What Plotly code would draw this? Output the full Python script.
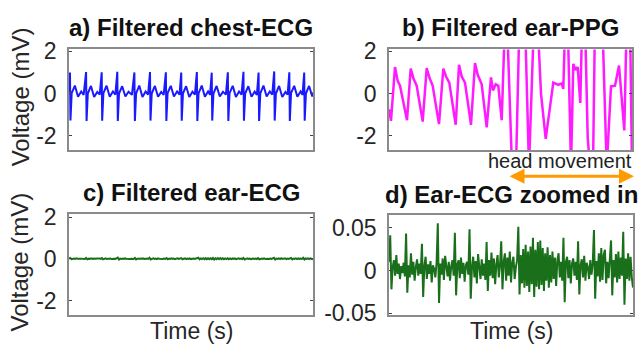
import numpy as np
import plotly.graph_objects as go

# ---------------- data ----------------
# a) chest ECG (mV) vs time (arbitrary units 0-100)
ecg_t = [0.0, 0.4, 0.6, 1.1, 2.4, 3.7, 5.0, 6.0,
         7.0, 7.2, 7.7, 9.0, 10.3, 11.6, 12.6,
         13.4, 13.6, 14.1, 15.4, 16.7, 18.0, 19.0,
         19.8, 20.0, 20.5, 21.8, 23.1, 24.4, 25.8,
         26.8, 27.0, 27.5, 28.8, 30.1, 31.4, 32.4,
         33.2, 33.4, 33.9, 35.2, 36.5, 37.8, 38.8,
         39.7, 39.9, 40.4, 41.7, 43.0, 44.3, 45.3,
         46.0, 46.2, 46.7, 48.0, 49.3, 50.6, 51.6,
         52.4, 52.6, 53.1, 54.4, 55.7, 57.0, 57.8,
         58.5, 58.7, 59.2, 60.5, 61.8, 63.1, 64.3,
         65.1, 65.3, 65.8, 67.1, 68.4, 69.7, 70.7,
         71.5, 71.7, 72.2, 73.5, 74.8, 76.1, 77.0,
         77.7, 77.9, 78.4, 79.7, 81.0, 82.3, 83.3,
         84.1, 84.3, 84.8, 86.1, 87.4, 88.7, 89.6,
         90.3, 90.5, 91.0, 92.3, 93.6, 94.9, 95.7,
         96.4, 96.6, 97.1, 98.4, 99.7, 100.0]
ecg_v = [0.10, 1.00, -1.28, 0.02, 0.38, -0.15, 0.10, -0.06,
         1.02, -1.30, 0.00, 0.36, -0.16, 0.08, -0.05,
         1.01, -1.29, 0.02, 0.37, -0.15, 0.10, -0.05,
         1.03, -1.30, 0.00, 0.35, -0.14, 0.09, -0.06,
         1.00, -1.30, 0.01, 0.38, -0.16, 0.10, -0.05,
         1.02, -1.28, 0.00, 0.36, -0.15, 0.08, -0.06,
         1.01, -1.30, 0.02, 0.37, -0.14, 0.10, -0.05,
         1.00, -1.29, 0.00, 0.35, -0.16, 0.09, -0.05,
         1.02, -1.30, 0.01, 0.38, -0.15, 0.10, -0.06,
         0.99, -1.28, 0.00, 0.36, -0.14, 0.08, -0.05,
         1.01, -1.30, 0.02, 0.37, -0.16, 0.10, -0.05,
         1.03, -1.29, 0.00, 0.35, -0.15, 0.09, -0.06,
         1.00, -1.30, 0.01, 0.38, -0.14, 0.10, -0.05,
         1.05, -1.28, 0.00, 0.36, -0.16, 0.08, -0.05,
         1.01, -1.30, 0.02, 0.37, -0.15, 0.10, -0.06,
         1.00, -1.29, 0.00, 0.36, -0.14, 0.05]

# b) ear PPG
ppg_t = [0, 0.82, 2.47, 3.58, 4.53, 5.88, 7.41, 8.93, 10.0, 11.4, 13.87, 15.51,
         16.58, 17.98, 20.58, 22.35, 23.46, 24.81, 27.45, 28.81, 29.92, 31.28,
         33.74, 35.39, 36.5, 38.15, 40.2, 41.98, 42.8, 43.91, 44.98, 46.38,
         47.74, 48.56, 50.62, 52.26, 53.7, 55.97, 57.61, 59.67, 61.11, 62.55,
         64.49, 67.61, 69.67, 71.07, 71.73, 72.43, 73.54, 74.9, 75.84, 76.83,
         77.65, 78.72, 79.51, 80.66, 81.77, 82.72, 83.95, 84.77, 87.78, 89.59,
         91.36, 93.0, 94.65, 96.83, 97.82, 99.18, 100.0]
ppg_v = [-0.74, -1.29, 1.26, 0.59, 0.37, -0.37, -1.26, 1.18, 0.74, 0.37, -1.33, 1.21,
         0.77, 0.37, -1.45, 1.18, 0.81, 0.52, -1.48, 1.36, 0.81, 0.52,
         -1.48, 1.45, 0.89, 0.44, -1.60, 0.77, 0.15, 0.44, 0.37, -1.26,
         3.5, 3.5, -3.5, -3.5, 3.5, 3.5, -3.5, 3.5, 3.5, 0.0,
         -2.15, 0.52, 0.41, 0.48, 0.22, 3.0, 3.5, -3.5, 1.41, 1.11,
         1.26, -0.44, 3.5, 3.5, -2.07, -3.5, -3.5, 3.5, 3.5, -3.5,
         0.34, 0.37, 1.33, -1.75, 3.5, 3.5, -3.5]

# c/d) ear ECG (mV), uniformly sampled over 0-100
ear_v = [
    0.010, 0.041, -0.022, 0.004, 0.012, -0.006, 0.018, -0.004, 0.008, -0.010, 0.005, -0.003, 0.009, -0.007,
    0.043, -0.026, 0.006, -0.008, 0.020, -0.005, 0.010, -0.012, 0.004, 0.013, -0.006, 0.008, -0.004,
    0.031, -0.031, 0.005, 0.016, -0.010, 0.007, -0.004, 0.011, -0.014, 0.006, 0.002, -0.008, 0.009,
    0.055, -0.038, 0.008, -0.005, 0.014, -0.011, 0.017, 0.003, -0.007, 0.010, -0.012, 0.005, 0.012, -0.006,
    0.044, -0.029, 0.007, 0.012, -0.009, 0.015, -0.004, 0.009, -0.013, 0.006, 0.010, -0.005,
    0.048, -0.033, 0.004, 0.016, -0.008, 0.011, -0.015, 0.019, 0.002, -0.010, 0.013, -0.006, 0.008, -0.011,
    0.033, -0.024, 0.012, -0.006, 0.021, -0.009, 0.014, -0.016, 0.007, 0.018, -0.008, 0.006,
    0.034, -0.022, 0.010, 0.020, -0.012, 0.015, -0.006, 0.022, -0.014, 0.009, 0.016, -0.010, 0.004, 0.012,
    0.051, -0.028, 0.018, -0.015, 0.025, -0.020, 0.030, -0.018, 0.022, -0.025, 0.028, -0.016,
    0.038, -0.031, 0.024, -0.019, 0.033, -0.022, 0.035, -0.017, 0.026, -0.024, 0.020, -0.012,
    0.027, -0.020, 0.018, -0.014, 0.022, -0.010, 0.015, -0.018, 0.012, 0.020, -0.008, 0.010, -0.012,
    0.038, -0.037, 0.010, 0.016, -0.009, 0.012, -0.015, 0.008, 0.014, -0.006, 0.010, -0.011,
    0.034, -0.028, 0.006, 0.013, -0.008, 0.017, -0.012, 0.009, 0.004, -0.010, 0.012, -0.005, 0.008,
    0.047, -0.033, 0.011, -0.007, 0.020, -0.013, 0.026, -0.011, 0.018, 0.024, -0.015, 0.010, -0.009, 0.014,
    0.035, -0.029, 0.012, -0.008, 0.019, -0.014, 0.022, -0.010, 0.015, -0.006,
    0.045, -0.040, 0.014, -0.010, 0.020, -0.012, 0.016, -0.008, -0.020,
]
ear_t = np.linspace(0, 100, len(ear_v))

titles = ["a) Filtered chest-ECG", "b) Filtered ear-PPG",
          "c) Filtered ear-ECG", "d) Ear-ECG zoomed in"]

# ---------------- figure ----------------
W, H = 639, 358
FONT = "Liberation Sans, Arial, sans-serif"
FRAME = "#8a8a8a"
TICKC = "#262626"

def px(x):
    return x / W

def py(y):
    return 1 - y / H

fig = go.Figure()
fig.add_trace(go.Scatter(x=ecg_t, y=ecg_v, mode="lines", line=dict(color="#1a1aff", width=2),
                         xaxis="x", yaxis="y", showlegend=False))
fig.add_trace(go.Scatter(x=ppg_t, y=ppg_v, mode="lines", line=dict(color="#ff1aff", width=2.5),
                         xaxis="x2", yaxis="y2", showlegend=False))
fig.add_trace(go.Scatter(x=ear_t, y=ear_v, mode="lines", line=dict(color="#1a6f1a", width=2),
                         xaxis="x3", yaxis="y3", showlegend=False))
fig.add_trace(go.Scatter(x=ear_t, y=ear_v, mode="lines", line=dict(color="#1a6f1a", width=2),
                         xaxis="x4", yaxis="y4", showlegend=False))

boxes = {
    1: (69, 313, 41, 148),
    2: (389, 632, 41, 148),
    3: (69, 313, 216, 324),
    4: (389, 633, 217, 324),
}
yranges = {1: [-2.67, 2.09], 2: [-2.67, 2.09], 3: [-2.70, 2.16], 4: [-0.052, 0.065]}
ytickvals = {1: [-2, 0, 2], 2: [-2, 0, 2], 3: [-2, 0, 2], 4: [-0.05, 0, 0.05]}
yticktext = {1: ["-2", "0", "2"], 2: ["-2", "0", "2"], 3: ["-2", "0", "2"],
             4: ["-0.05", "0", "0.05"]}

layout = dict(
    width=W, height=H, margin=dict(l=0, r=0, t=0, b=0),
    paper_bgcolor="white", plot_bgcolor="white",
    font=dict(family=FONT, color=TICKC),
    showlegend=False,
)
for i, (x0, x1, y0, y1) in boxes.items():
    sx = "" if i == 1 else str(i)
    layout["xaxis" + sx] = dict(
        domain=[px(x0), px(x1)], range=[0, 100], anchor="y" + sx,
        showline=True, linecolor=FRAME, linewidth=1.5, mirror=True,
        showticklabels=False, ticks="", showgrid=False, zeroline=False, fixedrange=True,
    )
    layout["yaxis" + sx] = dict(
        domain=[py(y1), py(y0)], range=yranges[i], anchor="x" + sx,
        showline=True, linecolor=FRAME, linewidth=1.5, mirror="ticks",
        ticks="inside", ticklen=3, tickcolor="#444", tickwidth=1,
        tickvals=ytickvals[i], ticktext=yticktext[i],
        tickfont=dict(size=23, family=FONT, color=TICKC), ticklabelstandoff=6,
        showgrid=False, zeroline=False, fixedrange=True,
    )
fig.update_layout(**layout)

# titles
title_pos = {1: 18, 2: 18, 3: 193, 4: 196}
for i, t in enumerate(titles, start=1):
    x0, x1, y0, y1 = boxes[i]
    fig.add_annotation(text="<b>%s</b>" % t, x=px((x0 + x1) / 2), y=py(title_pos[i]),
                       xref="paper", yref="paper", showarrow=False,
                       xanchor="center", yanchor="middle",
                       font=dict(size=24, family=FONT, color="#111"))

# axis labels
for yc in (92, 268):
    fig.add_annotation(text="Voltage (mV)", x=px(20), y=py(yc), xref="paper", yref="paper",
                       textangle=-90, showarrow=False, xanchor="center", yanchor="middle",
                       font=dict(size=24, family=FONT, color=TICKC))
for xc in (191, 511):
    fig.add_annotation(text="Time (s)", x=px(xc), y=py(341), xref="paper", yref="paper",
                       showarrow=False, xanchor="center", yanchor="middle",
                       font=dict(size=23, family=FONT, color=TICKC))

# head movement label and arrow
fig.add_annotation(text="head movement", x=px(560), y=py(160), xref="paper", yref="paper",
                   showarrow=False, xanchor="center", yanchor="middle",
                   font=dict(size=20, family=FONT, color="#222"))
fig.add_annotation(text="", x=px(634), y=py(176), xref="paper", yref="paper",
                   ax=-126, ay=0, axref="pixel", ayref="pixel",
                   showarrow=True, arrowhead=2, arrowside="end+start", arrowsize=1,
                   arrowwidth=3, arrowcolor="#ff9a00")

fig.write_html("out.html")
